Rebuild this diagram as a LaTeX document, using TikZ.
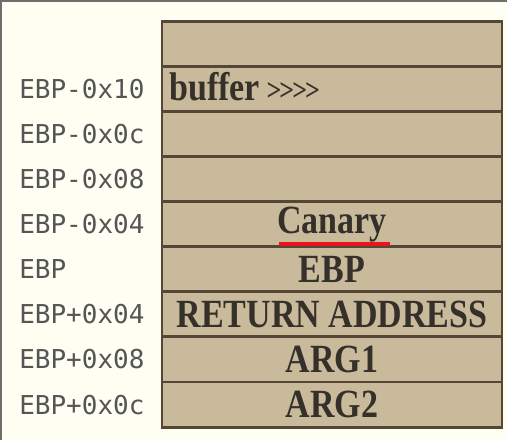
\documentclass[tikz,border=0pt]{standalone}
\usepackage{fontspec}
\usetikzlibrary{positioning}
\newfontfamily\slabfont{Liberation Serif}[FakeStretch=0.85]
\newfontfamily\addrfont{DejaVu Sans Mono}
\definecolor{paper}{HTML}{FFFEF2}
\definecolor{frame}{HTML}{6E6E6E}
\definecolor{cellfill}{HTML}{C8BA9A}
\definecolor{celledge}{HTML}{554636}
\definecolor{celltext}{HTML}{35302A}
\definecolor{addrtext}{HTML}{555555}
\definecolor{canaryred}{HTML}{E8141E}
\begin{document}
\begin{tikzpicture}[
  x=0.75pt, y=-0.75pt,
  cell/.style={draw=celledge, fill=cellfill, line width=2.2pt, outer sep=0pt,
    minimum width=255pt, minimum height=33.8pt, inner sep=0pt,
    text=celltext, font=\slabfont\bfseries\fontsize{30}{30}\selectfont},
  addr/.style={anchor=west, inner sep=0pt, text=addrtext,
    font=\addrfont\fontsize{19.5}{19.5}\selectfont},
  node distance=0pt
]

% Page and frame
\fill[paper] (0,0) rectangle (507,440);
\useasboundingbox (0,0) rectangle (507,440);
\draw[frame, line width=1.5pt] (0.5,440) -- (0.5,0.5) -- (507,0.5);

% Stack cells
\node[cell] (top) at (332,44) {};
\node[cell, below=of top] (buf) {};
\node[cell, below=of buf] (c0c) {};
\node[cell, below=of c0c] (c08) {};
\node[cell, below=of c08] (canary) {Canary};
\node[cell, below=of canary] (ebp) {EBP};
\node[cell, below=of ebp] (ret) {RETURN ADDRESS};
\node[cell, below=of ret] (arg1) {ARG1};
\node[cell, below=of arg1] (arg2) {ARG2};

% Buffer text
\node[anchor=west, inner sep=0pt, text=celltext,
  font=\slabfont\bfseries\fontsize{30}{30}\selectfont] (buftext)
  at ([shift={(7,-2)}]buf.west) {buffer\,{\fontsize{23}{23}\selectfont>\kern-1.5pt>\kern-1.5pt>\kern-1.5pt>}};

% Canary underline
\draw[canaryred, line width=3pt] ([shift={(-53,20)}]canary.center) -- ([shift={(58,20)}]canary.center);

% Offsets
\node[addr] (lbuf) at (19,0 |- buf) {EBP-0x10};
\node[addr] (lc0c) at (19,0 |- c0c) {EBP-0x0c};
\node[addr] (lc08) at (19,0 |- c08) {EBP-0x08};
\node[addr] (lcanary) at (19,0 |- canary) {EBP-0x04};
\node[addr] (lebp) at (19,0 |- ebp) {EBP};
\node[addr] (lret) at (19,0 |- ret) {EBP+0x04};
\node[addr] (larg1) at (19,0 |- arg1) {EBP+0x08};
\node[addr] (larg2) at (19,0 |- arg2) {EBP+0x0c};
\end{tikzpicture}
\end{document}
